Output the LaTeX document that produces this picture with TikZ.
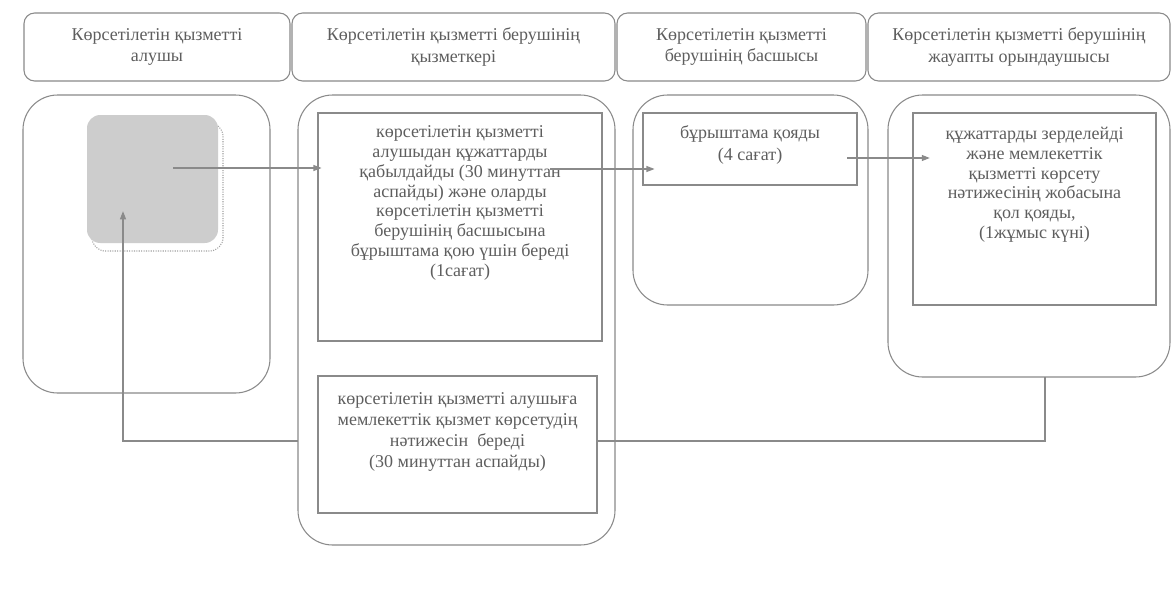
\documentclass[tikz,border=0pt]{standalone}
\usepackage{fontspec}
\setmainfont{Liberation Serif}
\usetikzlibrary{arrows.meta,positioning}

\definecolor{scanline}{HTML}{8A8A8A}
\definecolor{scantext}{HTML}{5E5E5E}
\definecolor{scanfill}{HTML}{CDCDCD}

\begin{document}
\begin{tikzpicture}[x=0.75pt, y=-0.75pt, > = {Triangle[length=6pt,width=4.5pt]},
	frame/.style={draw=scanline, line width=0.8pt, inner sep=0pt},
	head/.style={frame, rounded corners=8pt, align=center, text=scantext, font=\fontsize{13.5}{16}\selectfont},
	lane/.style={frame, rounded corners=26pt},
	task/.style={frame},
	txt/.style={text=scantext, font=\fontsize{13.5}{14.8}\selectfont, align=center, inner sep=0pt},
	conn/.style={draw=scanline, line width=0.8pt}]
	\useasboundingbox (0,0) rectangle (1172,596);
	\fill[white] (0,0) rectangle (1172,596);

	% header row
	\node[head, minimum width=199.5pt, minimum height=51pt] (h1) at (157,47) {Көрсетілетін қызметті\\алушы};
	\node[head, minimum width=242.25pt, minimum height=51pt] (h2) at (453.5,47) {Көрсетілетін қызметті берушінің\\қызметкері};
	\node[head, minimum width=186.75pt, minimum height=51pt] (h3) at (741.5,47) {Көрсетілетін қызметті\\берушінің басшысы};
	\node[head, minimum width=226.5pt, minimum height=51pt] (h4) at (1019,47) {Көрсетілетін қызметті берушінің\\жауапты орындаушысы};

	% lanes
	\node[lane, minimum width=185.25pt, minimum height=223.5pt] (lane1) at (146.5,244) {};
	\node[lane, minimum width=237.75pt, minimum height=337.5pt] (lane2) at (456.5,320) {};
	\node[lane, minimum width=176.25pt, minimum height=157.5pt] (lane3) at (750.5,200) {};
	\node[lane, minimum width=211.5pt, minimum height=211.5pt] (lane4) at (1029,236) {};

	% client
	\node[draw=scanline!80, densely dotted, line width=0.8pt, rounded corners=10pt, minimum width=98.25pt, minimum height=96pt] (shadow) at (157.5,187) {};
	\node[fill=scanfill, rounded corners=10pt, minimum width=98.25pt, minimum height=96pt] (client) at (152.5,179) {};

	% tasks
	\node[task, minimum width=213pt, minimum height=171pt] (t1) at (460,227) {};
	\node[txt, below=10pt of t1.north] (t1text) {көрсетілетін қызметті\\алушыдан құжаттарды\\қабылдайды (30 минуттан\\аспайды) және оларды\\көрсетілетін қызметті\\берушінің басшысына\\бұрыштама қою үшін береді\\(1сағат)};
	\node[task, minimum width=209.25pt, minimum height=102.75pt] (t2) at (457.5,444.5) {};
	\node[txt, font=\fontsize{13.5}{15.6}\selectfont, below=13pt of t2.north] (t2text) {көрсетілетін қызметті алушыға\\мемлекеттік қызмет көрсетудің\\нәтижесін\ \ береді\\(30 минуттан аспайды)};
	\node[task, minimum width=160.5pt, minimum height=54pt] (t3) at (750,149) {};
	\node[txt, font=\fontsize{13.5}{16}\selectfont, below=10pt of t3.north] (t3text) {бұрыштама қояды\\(4 сағат)};
	\node[task, minimum width=182.25pt, minimum height=144pt] (t4) at (1034.5,209) {};
	\node[txt, below=11pt of t4.north] (t4text) {құжаттарды зерделейді\\және мемлекеттік\\қызметті көрсету\\нәтижесінің жобасына\\қол қояды,\\(1жұмыс күні)};

	% arrows
	\coordinate (a1) at (173,168);
	\coordinate (a2) at (550,169);
	\coordinate (a3) at (847,158);
	\draw[conn,->] (a1) -- ([xshift=3pt]a1 -| t1.west);
	\draw[conn,->] (a2) -- ([xshift=9pt]a2 -| t3.west);
	\draw[conn,->] (a3) -- ([xshift=13pt]a3 -| t4.west);

	% result back to the client
	\coordinate (r1) at (1045,377);
	\coordinate (r2) at (1045,441);
	\coordinate (r3) at (298,441);
	\coordinate (r4) at (123,441);
	\draw[conn] (r1) -- (r2) -- (r2 -| t2.east);
	\draw[conn,->] (r3) -- (r4) -- (r4 |- client.south) -- ++(0,-32);
\end{tikzpicture}
\end{document}
